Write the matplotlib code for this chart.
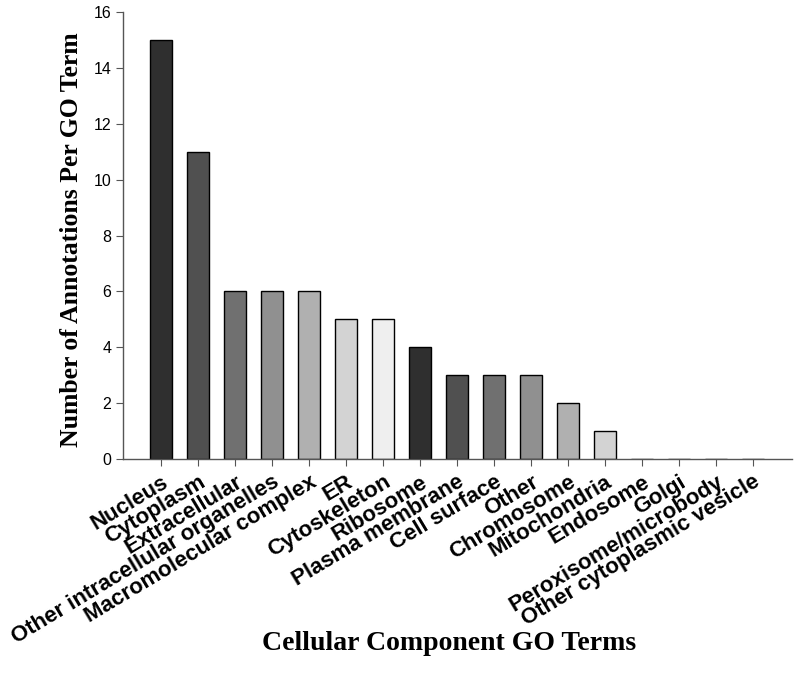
import numpy as np
import matplotlib
matplotlib.use('Agg')
import matplotlib.pyplot as plt

plt.rcParams['font.family'] = ['Liberation Sans', 'DejaVu Sans']

terms = ['Nucleus', 'Cytoplasm', 'Extracellular', 'Other intracellular organelles',
         'Macromolecular complex', 'ER', 'Cytoskeleton', 'Ribosome', 'Plasma membrane',
         'Cell surface', 'Other', 'Chromosome', 'Mitochondria', 'Endosome', 'Golgi',
         'Peroxisome/microbody', 'Other cytoplasmic vesicle']
counts = [15, 11, 6, 6, 6, 5, 5, 4, 3, 3, 3, 2, 1, 0, 0, 0, 0]
grays = ['#2f2f2f', '#505050', '#707070', '#909090', '#b0b0b0', '#d3d3d3', '#efefef']

#---Plot
fig = plt.figure(figsize=(8, 6.82), dpi=100)
ax = fig.add_axes([0.154, 0.327, 0.836, 0.655])

x = np.arange(len(terms))
colors = [grays[i % len(grays)] for i in range(len(terms))]
ax.bar(x, counts, width=0.6, color=colors, edgecolor='black', linewidth=1.0)

ax.set_xlim(-1.03, 17.05)
ax.set_ylim(0, 16)
ax.set_yticks(range(0, 17, 2))
ax.set_xticks(x)
ax.set_xticklabels(terms, rotation=31, ha='right', va='top', rotation_mode='anchor',
                   fontsize=16, fontweight='bold')
ax.tick_params(axis='y', labelsize=11.5, direction='out', length=5, color='#555555')
ax.tick_params(axis='x', direction='out', length=5, color='#555555', pad=4)

for s in ['top', 'right']:
    ax.spines[s].set_visible(False)
for s in ['left', 'bottom']:
    ax.spines[s].set_color('#555555')
    ax.spines[s].set_linewidth(1.0)
ax.spines['bottom'].set_zorder(3)

fig.text(72/800, 1-240/682, 'Number of Annotations Per GO Term', rotation=90,
         ha='center', va='center', family='Liberation Serif', fontweight='bold', fontsize=18.5)
fig.text(449/800, 1-643/682, 'Cellular Component GO Terms',
         ha='center', va='center', family='Liberation Serif', fontweight='bold', fontsize=20)

fig.savefig('out.png', dpi=100)
